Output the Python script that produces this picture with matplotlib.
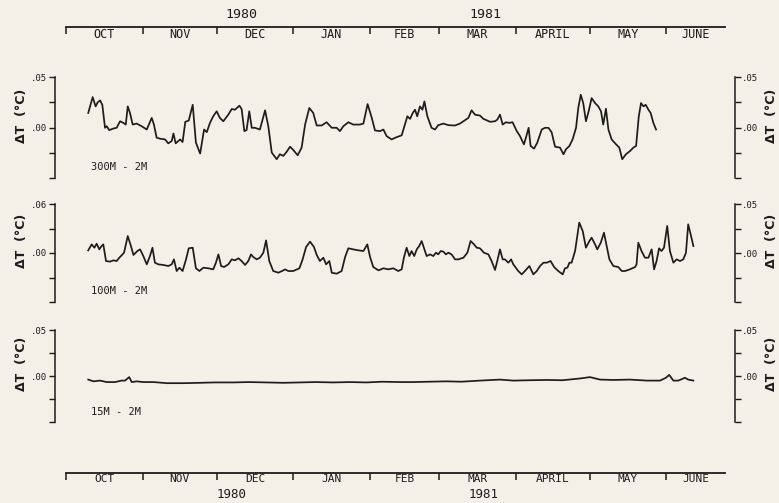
import matplotlib.pyplot as plt
from matplotlib.transforms import blended_transform_factory

# day number counted from 1 Oct 1980, temperature difference in deg C
day_300 = [9.0, 10.8, 12.0, 12.8, 13.8, 14.7, 15.8, 16.5, 17.5, 19.2,
           20.5, 21.9, 23.2, 24.2, 25.0, 25.9, 27.0, 28.6, 30.6, 32.7,
           34.7, 35.6, 36.7, 38.1, 40.1, 41.4, 42.8, 43.5, 44.4, 46.2,
           47.2, 48.3, 49.7, 51.3, 52.6, 54.3, 55.9, 57.0, 58.3, 59.6,
           61.0, 62.3, 63.7, 65.7, 67.1, 68.4, 70.2, 71.1, 72.2, 73.1,
           74.2, 75.2, 76.5, 78.5, 80.6, 81.9, 83.3, 85.3, 86.6, 88.0,
           89.3, 90.7, 92.0, 93.8, 95.4, 96.8, 98.5, 100.1, 101.5, 103.5,
           105.5, 107.6, 109.6, 110.9, 112.3, 114.3, 116.3, 119.0, 120.4, 122.1,
           123.8, 125.1, 127.1, 128.5, 129.8, 131.8, 133.9, 135.9, 137.2, 138.2,
           139.3, 140.4, 141.3, 142.2, 143.3, 144.3, 145.1, 146.3, 148.0, 149.4,
           150.7, 152.8, 154.8, 157.5, 159.5, 161.5, 162.9, 164.2, 165.6, 167.6,
           169.0, 170.3, 171.7, 173.7, 174.6, 175.7, 176.8, 178.1, 179.5, 180.8,
           182.5, 183.8, 185.4, 186.2, 187.3, 188.1, 189.5, 190.8, 192.6, 193.9,
           195.3, 196.6, 198.0, 200.0, 201.4, 202.4, 203.8, 205.1, 206.5, 207.4,
           208.4, 209.4, 210.5, 211.6, 212.8, 214.2, 215.5, 216.6, 217.5, 218.6,
           219.6, 220.9, 222.7, 224.0, 225.2, 226.7, 228.4, 229.7, 230.8, 231.9,
           232.8, 233.8, 234.7, 235.8, 236.7, 237.8, 238.9]
dt_300 = [0.0144, 0.0301, 0.0209, 0.0248, 0.0268, 0.0225, -0.0003, 0.0013, -0.0026, -0.0010,
          -0.0003, 0.0062, 0.0046, 0.0029, 0.0209, 0.0144, 0.0029, 0.0039, 0.0013, -0.0020,
          0.0095, 0.0029, -0.0101, -0.0111, -0.0118, -0.0157, -0.0134, -0.0059, -0.0157, -0.0118,
          -0.0144, 0.0056, 0.0069, 0.0225, -0.0150, -0.0258, -0.0020, -0.0046, 0.0046, 0.0111,
          0.0160, 0.0095, 0.0062, 0.0127, 0.0183, 0.0176, 0.0216, 0.0183, -0.0036, -0.0026,
          0.0160, -0.0003, -0.0003, -0.0020, 0.0170, 0.0013, -0.0248, -0.0314, -0.0265, -0.0281,
          -0.0242, -0.0190, -0.0222, -0.0275, -0.0199, 0.0029, 0.0193, 0.0144, 0.0020, 0.0020,
          0.0052, -0.0003, -0.0003, -0.0036, 0.0013, 0.0052, 0.0029, 0.0029, 0.0039, 0.0232,
          0.0095, -0.0029, -0.0036, -0.0020, -0.0085, -0.0118, -0.0095, -0.0078, 0.0029, 0.0111,
          0.0085, 0.0144, 0.0176, 0.0111, 0.0209, 0.0176, 0.0258, 0.0111, -0.0003, -0.0020,
          0.0023, 0.0039, 0.0023, 0.0020, 0.0039, 0.0072, 0.0095, 0.0170, 0.0127, 0.0118,
          0.0085, 0.0072, 0.0056, 0.0062, 0.0078, 0.0127, 0.0029, 0.0052, 0.0046, 0.0052,
          -0.0036, -0.0085, -0.0167, -0.0101, -0.0003, -0.0183, -0.0209, -0.0150, -0.0020, -0.0003,
          -0.0003, -0.0046, -0.0190, -0.0199, -0.0265, -0.0216, -0.0183, -0.0118, -0.0003, 0.0193,
          0.0324, 0.0242, 0.0062, 0.0160, 0.0291, 0.0242, 0.0209, 0.0160, 0.0029, 0.0186,
          -0.0020, -0.0118, -0.0167, -0.0199, -0.0314, -0.0265, -0.0232, -0.0199, -0.0183, 0.0111,
          0.0242, 0.0209, 0.0225, 0.0176, 0.0144, 0.0046, -0.0020]

day_100 = [9.0, 10.4, 11.5, 12.4, 13.5, 14.4, 15.1, 16.2, 17.8, 19.2,
           20.5, 21.6, 23.5, 25.0, 26.3, 27.3, 28.9, 30.0, 31.3, 32.7,
           34.0, 35.0, 36.0, 37.4, 39.4, 41.4, 42.8, 43.7, 44.8, 45.9,
           47.2, 48.6, 49.7, 51.3, 52.6, 54.0, 55.6, 57.6, 59.6, 60.7,
           61.7, 62.8, 64.0, 65.7, 67.1, 68.4, 69.8, 71.1, 72.5, 73.8,
           74.9, 75.8, 77.2, 78.5, 79.9, 81.0, 82.3, 83.9, 86.0, 88.0,
           88.7, 90.0, 92.0, 94.5, 95.8, 97.2, 98.8, 100.4, 101.5, 102.8,
           104.2, 105.3, 106.6, 107.6, 109.6, 111.6, 113.0, 114.3, 116.3, 118.4,
           120.4, 122.0, 123.1, 124.4, 126.5, 128.5, 130.5, 132.5, 134.5,
           135.9, 136.8, 137.9, 139.0, 139.9, 141.0, 142.0, 143.0, 144.0, 144.9,
           146.0, 147.4, 148.7, 149.8, 150.7, 151.7, 152.8, 153.8, 154.8, 156.1,
           157.5, 158.8, 160.9, 162.5, 163.8, 165.2, 166.3, 167.6, 169.2, 171.0,
           172.3, 173.7, 174.6, 175.7, 176.8, 177.7, 179.1, 180.2, 181.1, 183.1,
           184.5, 185.8, 187.6, 189.2, 190.6, 191.9, 193.3, 194.6, 196.2, 197.6,
           199.3, 201.1, 202.0, 203.0, 203.8, 204.7, 206.1, 207.8, 209.2, 210.5,
           211.9, 212.8, 214.2, 215.1, 216.5, 217.8, 218.9, 220.0, 221.6, 223.6,
           225.0, 226.3, 228.3, 230.4, 231.0, 231.7, 233.0, 234.4, 235.8, 237.1,
           238.1, 239.1, 240.1, 241.1, 242.1, 243.4, 244.5, 245.9, 247.2, 248.6,
           249.9, 251.0, 251.9, 252.9, 254.0]
dt_100 = [0.0027, 0.0088, 0.0054, 0.0095, 0.0037, 0.0071, 0.0088, -0.0082, -0.0088, -0.0075,
          -0.0082, -0.0048, 0.0003, 0.0173, 0.0071, -0.0020, 0.0020, 0.0037, -0.0031, -0.0116,
          -0.0031, 0.0054, -0.0099, -0.0116, -0.0122, -0.0133, -0.0116, -0.0065, -0.0184, -0.0150,
          -0.0184, -0.0065, 0.0048, 0.0054, -0.0156, -0.0184, -0.0150, -0.0156, -0.0167, -0.0099,
          -0.0014, -0.0133, -0.0143, -0.0116, -0.0065, -0.0075, -0.0054, -0.0082, -0.0122, -0.0082,
          -0.0014, -0.0041, -0.0065, -0.0048, 0.0003, 0.0129, -0.0082, -0.0184, -0.0201, -0.0177,
          -0.0167, -0.0184, -0.0184, -0.0156, -0.0065, 0.0061, 0.0116, 0.0061, -0.0020, -0.0082,
          -0.0048, -0.0116, -0.0082, -0.0201, -0.0211, -0.0184, -0.0041, 0.0048, 0.0037, 0.0027,
          0.0020, 0.0088, -0.0041, -0.0143, -0.0177, -0.0156, -0.0167, -0.0156, -0.0184,
          -0.0167, -0.0048, 0.0054, -0.0031, 0.0020, -0.0031, 0.0037, 0.0071, 0.0122, 0.0054,
          -0.0031, -0.0014, -0.0031, 0.0003, -0.0014, 0.0020, 0.0014, -0.0014, 0.0003, -0.0014,
          -0.0065, -0.0065, -0.0048, 0.0003, 0.0122, 0.0088, 0.0054, 0.0048, 0.0003, -0.0014,
          -0.0082, -0.0173, -0.0082, 0.0037, -0.0065, -0.0065, -0.0099, -0.0065, -0.0116, -0.0184,
          -0.0218, -0.0184, -0.0133, -0.0218, -0.0184, -0.0133, -0.0099, -0.0099, -0.0082, -0.0143,
          -0.0184, -0.0218, -0.0156, -0.0150, -0.0099, -0.0099, 0.0020, 0.0310, 0.0224, 0.0054,
          0.0122, 0.0156, 0.0088, 0.0037, 0.0105, 0.0207, 0.0071, -0.0065, -0.0133, -0.0143,
          -0.0184, -0.0184, -0.0167, -0.0143, -0.0116, 0.0105, 0.0020, -0.0048, -0.0048, 0.0037,
          -0.0167, -0.0082, 0.0048, 0.0020, 0.0054, 0.0276, 0.0020, -0.0099, -0.0065, -0.0082,
          -0.0065, 0.0003, 0.0293, 0.0190, 0.0071]

day_15 = [9.0, 11.1, 13.8, 16.5, 19.8, 22.5, 23.9, 25.6, 26.6, 28.6,
          31.3, 35.4, 40.8, 47.5, 54.3, 60.0, 67.7, 74.0, 81.2, 88.0,
          94.7, 101.0, 108.2, 115.0, 121.7, 128.0, 135.2, 140.6, 147.0, 154.1,
          160.0, 167.6, 175.7, 181.1, 188.0, 194.6, 201.0, 208.1, 212.1, 216.2,
          221.6, 228.3, 235.1, 240.5, 242.9, 244.2, 245.9, 247.9, 250.6, 251.9,
          254.0]
dt_15 = [-0.0039, -0.0058, -0.0050, -0.0066, -0.0066, -0.0050, -0.0050, -0.0012, -0.0066, -0.0058,
         -0.0066, -0.0066, -0.0078, -0.0078, -0.0074, -0.0070, -0.0070, -0.0066, -0.0070, -0.0074,
         -0.0070, -0.0066, -0.0070, -0.0066, -0.0070, -0.0062, -0.0066, -0.0066, -0.0062, -0.0058,
         -0.0062, -0.0050, -0.0039, -0.0050, -0.0046, -0.0043, -0.0046, -0.0027, -0.0012, -0.0039,
         -0.0043, -0.0039, -0.0050, -0.0050, -0.0019, 0.0012, -0.0050, -0.0050, -0.0019, -0.0039,
         -0.0050]

months = ['OCT', 'NOV', 'DEC', 'JAN', 'FEB', 'MAR', 'APRIL', 'MAY', 'JUNE']
month_start = [0, 31, 61, 92, 123, 151, 182, 212, 243]
record_end = 267
years = ['1980', '1981']

W, H = 779, 503
BG = '#f3f0e8'
INK = '#1c1c1c'
X0 = 66            # pixel of 1 Oct
PX_PER_DAY = 2.47
MONO = 'DejaVu Sans Mono'

plt.rcParams['font.family'] = 'DejaVu Sans'
fig = plt.figure(figsize=(W / 100, H / 100), dpi=100)
fig.patch.set_facecolor(BG)


def px_axes(left, top, right, bottom):
    return fig.add_axes([left / W, 1 - bottom / H, (right - left) / W, (bottom - top) / H])


# the three difference panels
panels = [
    (day_300, dt_300, '300M - 2M', '.05', 77, 178),
    (day_100, dt_100, '100M - 2M', '.06', 204, 302),
    (day_15, dt_15, '15M - 2M', '.05', 330, 422),
]
for days, vals, name, top_lab, top, bottom in panels:
    ax = px_axes(55, top, 735, bottom)
    ax.patch.set_visible(False)
    ax.plot(days, vals, color=INK, lw=1.25)
    ax.set_xlim((55 - X0) / PX_PER_DAY, (735 - X0) / PX_PER_DAY)
    ax.set_ylim(-0.05, 0.05)
    for s in ['top', 'bottom', 'right']:
        ax.spines[s].set_visible(False)
    ax.spines['left'].set_color(INK)
    ax.spines['left'].set_linewidth(1.1)
    ax.set_xticks([])
    ax.set_yticks([-0.05, -0.025, 0, 0.025, 0.05])
    ax.set_yticklabels(['', '', '.00', '', top_lab], fontfamily=MONO)
    ax.tick_params(axis='y', direction='out', length=4, width=1.0, color=INK,
                   labelsize=6.5, labelcolor=INK, pad=2)

    axr = ax.twinx()
    axr.set_ylim(-0.05, 0.05)
    for s in ['top', 'bottom', 'left']:
        axr.spines[s].set_visible(False)
    axr.spines['right'].set_color(INK)
    axr.spines['right'].set_linewidth(1.1)
    axr.set_yticks([-0.05, -0.025, 0, 0.025, 0.05])
    axr.set_yticklabels(['', '', '.00', '', '.05'], fontfamily=MONO)
    axr.tick_params(axis='y', direction='out', length=4, width=1.0, color=INK,
                    labelsize=6.5, labelcolor=INK, pad=1)

    ax.text(10, -0.039, name, fontsize=7.5, color=INK, ha='left', va='center',
            fontfamily=MONO)
    label_y = 1 - ((top + bottom) / 2 - 12) / H
    for lx in (21, 771):
        fig.text(lx / W, label_y, 'ΔT  (°C)', rotation=90, fontsize=9, color=INK,
                 ha='center', va='center', fontweight='bold')


# month time lines at top and bottom
def timeline(y_line, month_y, year_y, year_days, month_size, year_size):
    ax = px_axes(X0, y_line - 8, X0 + record_end * PX_PER_DAY, y_line)
    ax.patch.set_visible(False)
    ax.set_xlim(0, record_end)
    for s in ['top', 'left', 'right']:
        ax.spines[s].set_visible(False)
    ax.spines['bottom'].set_color(INK)
    ax.spines['bottom'].set_linewidth(1.3)
    ax.set_yticks([])
    ax.set_xticks(month_start)
    ax.set_xticklabels([])
    ax.tick_params(axis='x', direction='out', length=5, width=1.1, color=INK)
    tr = blended_transform_factory(ax.transData, fig.transFigure)
    edges = month_start + [record_end]
    for i, name in enumerate(months):
        mid = (edges[i] + edges[i + 1]) / 2
        ax.text(mid, 1 - month_y / H, name, transform=tr, ha='center', va='center',
                fontsize=month_size, color=INK, fontfamily=MONO)
    for yr, d in zip(years, year_days):
        ax.text(d, 1 - year_y / H, yr, transform=tr, ha='center', va='center',
                fontsize=year_size, color=INK, fontfamily=MONO)


timeline(27, 35, 14, [71, 170], 8.5, 9.5)
timeline(473, 479.5, 494, [67, 169], 8, 9)

fig.savefig('out.png', dpi=100, facecolor=BG)
